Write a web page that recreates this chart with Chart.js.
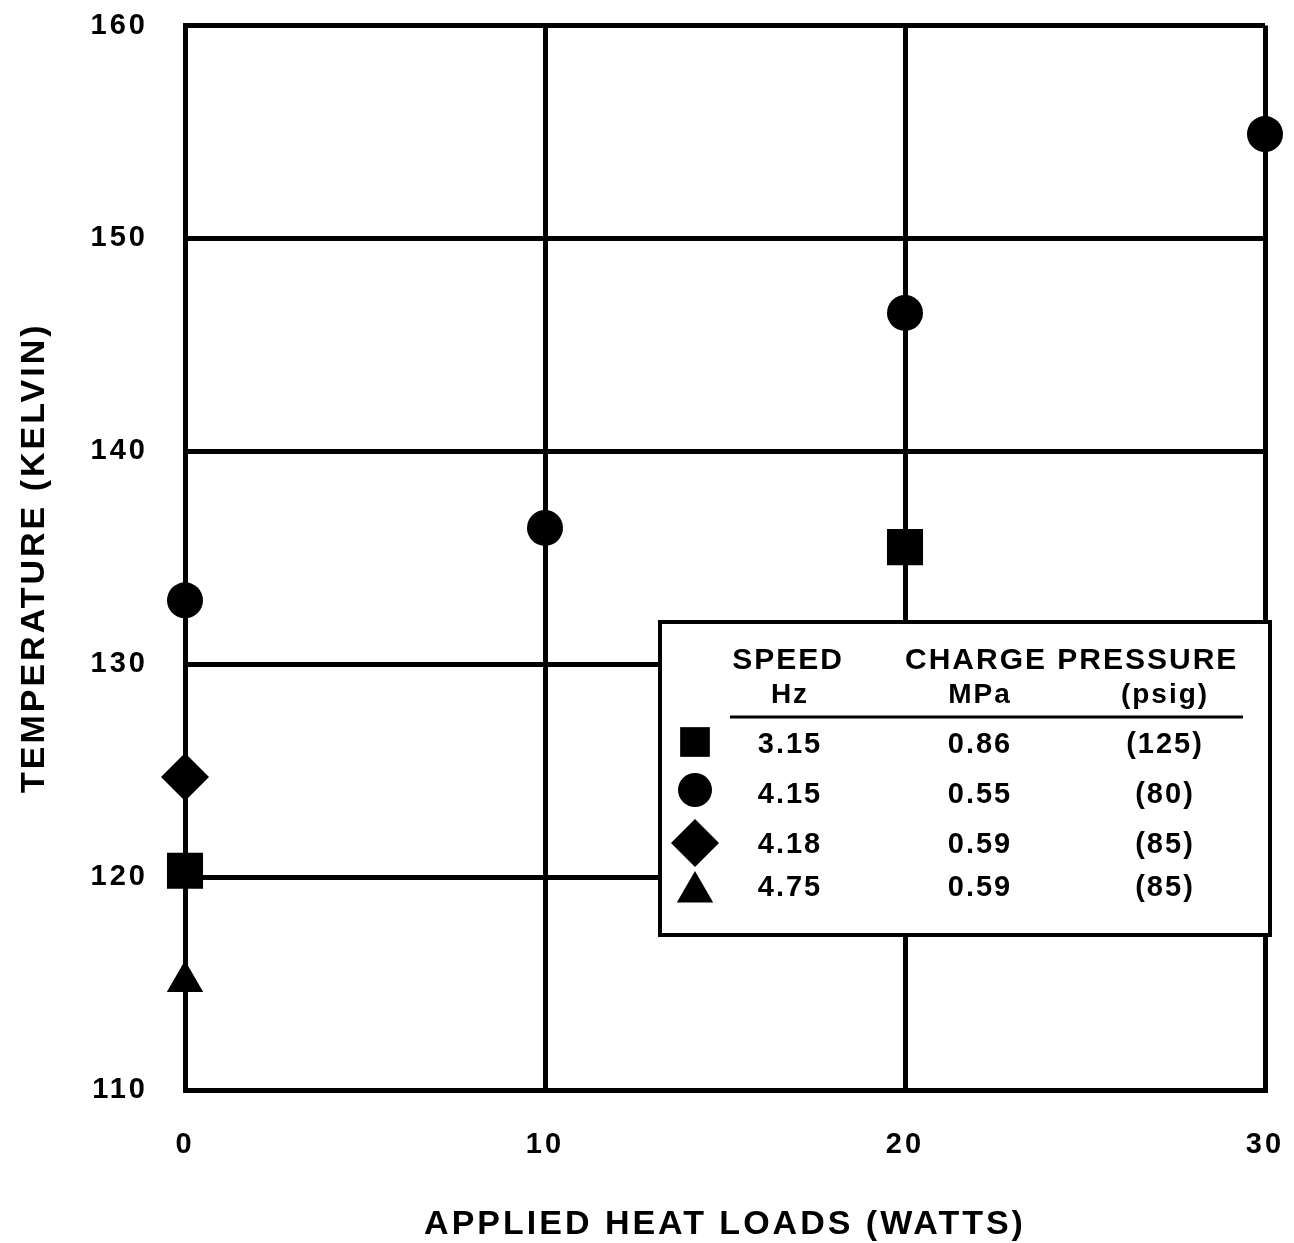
<!DOCTYPE html>
<html>
<head>
<meta charset="utf-8">
<script src="https://cdn.jsdelivr.net/npm/chart.js@4/dist/chart.umd.min.js"></script>
<style>
  html, body { margin: 0; padding: 0; background: #fff; }
  #wrap { width: 1294px; height: 1243px; position: relative; }
</style>
</head>
<body>
<div id="wrap"><canvas id="c" width="1294" height="1243"></canvas></div>
<script>
// ---- data ----
const xTicks = [0, 10, 20, 30];
const yTicks = [110, 120, 130, 140, 150, 160];

const squareX = [0, 20];
const squareY = [120.3, 135.5];
const circleX = [0, 10, 20, 30];
const circleY = [133.0, 136.4, 146.5, 154.9];
const diamondX = [0];
const diamondY = [124.7];
const triangleX = [0];
const triangleY = [115.1];

const legendHeadTop = ['SPEED', 'CHARGE PRESSURE'];
const legendHeadSub = ['Hz', 'MPa', '(psig)'];
const legendSpeed = ['3.15', '4.15', '4.18', '4.75'];
const legendMPa = ['0.86', '0.55', '0.59', '0.59'];
const legendPsig = ['(125)', '(80)', '(85)', '(85)'];
const legendStyles = ['rect', 'circle', 'rectRot', 'triangle'];

const xTitle = 'APPLIED HEAT LOADS (WATTS)';
const yTitle = 'TEMPERATURE (KELVIN)';

function pts(xs, ys) { return xs.map((x, i) => ({ x: x, y: ys[i] })); }

const FONT = "'Liberation Sans', Arial, Helvetica, sans-serif";

const spacingPlugin = {
  id: 'spacing',
  beforeDraw(chart) { chart.ctx.letterSpacing = '3px'; }
};

const legendPlugin = {
  id: 'tableLegend',
  afterDatasetsDraw(chart) {
    const ctx = chart.ctx;
    ctx.save();
    const L = 660, T = 622, R = 1270, B = 935;
    ctx.fillStyle = '#fff';
    ctx.fillRect(L, T, R - L, B - T);
    ctx.lineWidth = 4;
    ctx.strokeStyle = '#000';
    ctx.strokeRect(L, T, R - L, B - T);

    ctx.fillStyle = '#000';
    ctx.letterSpacing = '2px';
    ctx.font = 'bold 30px ' + FONT;
    ctx.textBaseline = 'middle';
    ctx.textAlign = 'center';
    ctx.fillText(legendHeadTop[0], 788, 661);
    ctx.textAlign = 'left';
    ctx.fillText(legendHeadTop[1], 905, 661);
    ctx.textAlign = 'center';
    ctx.font = 'bold 28px ' + FONT;
    const colX = [790, 980, 1165];
    legendHeadSub.forEach((t, i) => ctx.fillText(t, colX[i], 695));

    ctx.lineWidth = 3;
    ctx.beginPath();
    ctx.moveTo(730, 717);
    ctx.lineTo(1243, 717);
    ctx.stroke();

    const rowY = [745, 795, 845, 888];
    const markR = [21, 17, 24, 21];
    const markDy = [-3, -5, -2, 4];
    ctx.font = 'bold 29px ' + FONT;
    for (let i = 0; i < rowY.length; i++) {
      ctx.fillText(legendSpeed[i], colX[0], rowY[i]);
      ctx.fillText(legendMPa[i], colX[1], rowY[i]);
      ctx.fillText(legendPsig[i], colX[2], rowY[i]);
      ctx.fillStyle = '#000';
      Chart.helpers.drawPoint(ctx, { pointStyle: legendStyles[i], radius: markR[i], rotation: 0, borderWidth: 0 }, 695, rowY[i] + markDy[i]);
    }
    ctx.restore();
  }
};

const mk = (label, xs, ys, style, r) => ({
  label: label,
  data: pts(xs, ys),
  pointStyle: style,
  pointRadius: r,
  pointHoverRadius: r,
  backgroundColor: '#000',
  borderColor: '#000',
  borderWidth: 0,
  showLine: false,
  clip: false
});

new Chart(document.getElementById('c'), {
  type: 'scatter',
  data: {
    datasets: [
      mk('3.15 Hz', squareX, squareY, 'rect', 25.5),
      mk('4.15 Hz', circleX, circleY, 'circle', 18),
      mk('4.18 Hz', diamondX, diamondY, 'rectRot', 24),
      mk('4.75 Hz', triangleX, triangleY, 'triangle', 21)
    ]
  },
  options: {
    responsive: false,
    animation: false,
    events: [],
    layout: { padding: { left: 0, top: 22, right: 29, bottom: 0 } },
    plugins: { legend: { display: false }, tooltip: { enabled: false } },
    scales: {
      x: {
        type: 'linear',
        min: xTicks[0], max: xTicks[xTicks.length - 1],
        afterBuildTicks: (s) => { s.ticks = xTicks.map(v => ({ value: v })); },
        afterFit: (s) => { s.height = 153; s.paddingLeft = 0; s.paddingRight = 0; },
        grid: { color: '#000', lineWidth: 5, drawTicks: false },
        border: { color: '#000', width: 5 },
        ticks: { color: '#000', padding: 38, font: { family: FONT, size: 29, weight: 'bold' } },
        title: { display: true, text: xTitle, color: '#000', padding: { top: 0, bottom: 1 },
                 font: { family: FONT, size: 34, weight: 'bold', lineHeight: 1 } }
      },
      y: {
        type: 'linear',
        min: yTicks[0], max: yTicks[yTicks.length - 1],
        afterBuildTicks: (s) => { s.ticks = yTicks.map(v => ({ value: v })); },
        afterFit: (s) => { s.width = 185; s.paddingTop = 0; s.paddingBottom = 0; },
        grid: { color: '#000', lineWidth: 5, drawTicks: false },
        border: { color: '#000', width: 5 },
        ticks: { color: '#000', padding: 37, font: { family: FONT, size: 29, weight: 'bold' } },
        title: { display: true, text: yTitle, color: '#000', padding: { top: 18, bottom: 0 },
                 font: { family: FONT, size: 34, weight: 'bold', lineHeight: 1 } }
      }
    }
  },
  plugins: [spacingPlugin, legendPlugin]
});
</script>
</body>
</html>
